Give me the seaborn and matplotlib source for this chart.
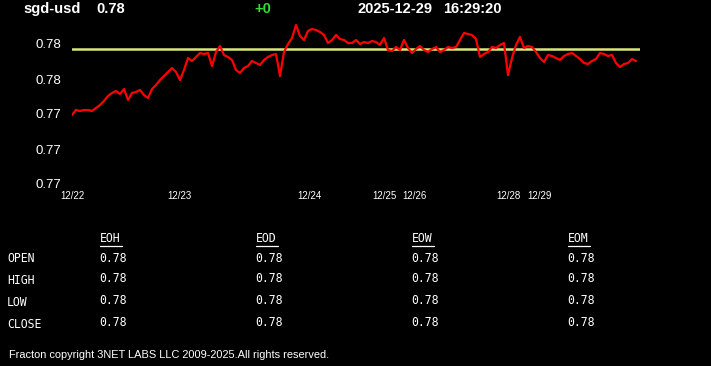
import seaborn as sns
import matplotlib.pyplot as plt
import pandas as pd
from matplotlib.lines import Line2D

# price samples, left to right (sgd-usd)
prices = [
    0.77479, 0.77484, 0.77483, 0.77484, 0.77484, 0.77483, 0.77486, 0.77489, 0.77493, 0.77498,
    0.77501, 0.77503, 0.77500, 0.77505, 0.77494, 0.77501, 0.77502, 0.77504, 0.77499, 0.77496,
    0.77505, 0.77509, 0.77514, 0.77518, 0.77522, 0.77526, 0.77522, 0.77514, 0.77524, 0.77536,
    0.77533, 0.77537, 0.77541, 0.77540, 0.77541, 0.77528, 0.77542, 0.77548, 0.77539, 0.77537,
    0.77534, 0.77524, 0.77521, 0.77526, 0.77528, 0.77533, 0.77531, 0.77529, 0.77534, 0.77537,
    0.77539, 0.77540, 0.77518, 0.77542, 0.77550, 0.77556, 0.77569, 0.77558, 0.77554, 0.77563,
    0.77565, 0.77564, 0.77562, 0.77559, 0.77551, 0.77554, 0.77559, 0.77555, 0.77554, 0.77551,
    0.77551, 0.77554, 0.77550, 0.77552, 0.77551, 0.77553, 0.77552, 0.77549, 0.77556, 0.77544,
    0.77543, 0.77547, 0.77544, 0.77554, 0.77546, 0.77541, 0.77545, 0.77548, 0.77544, 0.77542,
    0.77545, 0.77547, 0.77542, 0.77544, 0.77547, 0.77546, 0.77547, 0.77554, 0.77561, 0.77560,
    0.77559, 0.77555, 0.77537, 0.77540, 0.77542, 0.77547, 0.77546, 0.77549, 0.77551, 0.77519,
    0.77536, 0.77549, 0.77557, 0.77546, 0.77548, 0.77547, 0.77542, 0.77536, 0.77532, 0.77539,
    0.77538, 0.77536, 0.77534, 0.77538, 0.77540, 0.77541, 0.77538, 0.77535, 0.77531, 0.77530,
    0.77533, 0.77535, 0.77541, 0.77540, 0.77538, 0.77539, 0.77531, 0.77527, 0.77530, 0.77531,
    0.77535, 0.77533,
]
ref_price = 0.77545

day_labels = ['12/22', '12/23', '12/24', '12/25', '12/26', '12/28', '12/29']
day_pos = [0, 26.75, 59.3, 78.1, 85.6, 109.1, 116.8]

y_ticks = [0.7741, 0.77445, 0.7748, 0.77515, 0.7755]

table_cols = ['EOH', 'EOD', 'EOW', 'EOM']
table_rows = ['OPEN', 'HIGH', 'LOW', 'CLOSE']
table_vals = [[0.78, 0.78, 0.78, 0.78] for _ in table_rows]

df = pd.DataFrame({'idx': range(len(prices)), 'price': prices})

sns.set_style('dark')
plt.rcParams['font.family'] = ['Liberation Sans', 'DejaVu Sans']

W, H = 711, 366
fig = plt.figure(figsize=(W / 100, H / 100), dpi=100, facecolor='black')
ax = fig.add_axes([72 / W, 1 - 184 / H, (640 - 72) / W, (184 - 20) / H])
ax.set_facecolor('black')

sns.lineplot(data=df, x='idx', y='price', ax=ax, color='#ff0000', linewidth=1.6)
ax.axhline(ref_price, color='#d8e67a', linewidth=1.8, zorder=1)

ax.set_xlim(0, 142)
ax.set_ylim(0.7741, 0.77574)
ax.set_xticks(day_pos)
ax.set_xticklabels(day_labels, fontsize=7, color='white')
ax.set_yticks(y_ticks)
ax.set_yticklabels(['{:.2f}'.format(v) for v in y_ticks], fontsize=9.5, color='white')
ax.tick_params(axis='x', colors='white', length=3, width=1, pad=2, direction='out')
ax.tick_params(axis='y', length=0, pad=7.5)
ax.set_xlabel('')
ax.set_ylabel('')
ax.grid(False)
for s in ax.spines.values():
    s.set_visible(False)


def px(x, y):
    return x / W, 1 - y / H


# header line
hdr = dict(fontsize=10.5, fontweight='bold', color='white', va='center')
fig.text(*px(23, 9), 'sgd-usd', **hdr)
fig.text(*px(96, 9), '0.78', **hdr)
fig.text(*px(254, 9), '+0', fontsize=10.5, fontweight='bold', color='#33dd33', va='center')
fig.text(*px(357, 9), '2025-12-29', **hdr)
fig.text(*px(443, 9), '16:29:20', **hdr)

# summary table
mono = dict(family='DejaVu Sans Mono', fontsize=8.3, color='white', va='center')
col_x = [99, 255, 411, 567]
row_y = [259, 280, 302, 324]
for cx, name in zip(col_x, table_cols):
    fig.text(*px(cx + 1, 239), name, **mono)
    fig.add_artist(Line2D([(cx + 1) / W, (cx + 23) / W], [1 - 246 / H, 1 - 246 / H],
                          color='white', linewidth=0.9, transform=fig.transFigure))
for ry, name, vals in zip(row_y, table_rows, table_vals):
    fig.text(*px(7, ry), name, **mono)
    for cx, v in zip(col_x, vals):
        fig.text(*px(cx, ry - 1), '{:.2f}'.format(v), **mono)

fig.text(*px(9, 355), 'Fracton copyright 3NET LABS LLC 2009-2025.All rights reserved.',
         fontsize=7.95, color='white', va='center')

fig.savefig('out.png', dpi=100, facecolor='black')
